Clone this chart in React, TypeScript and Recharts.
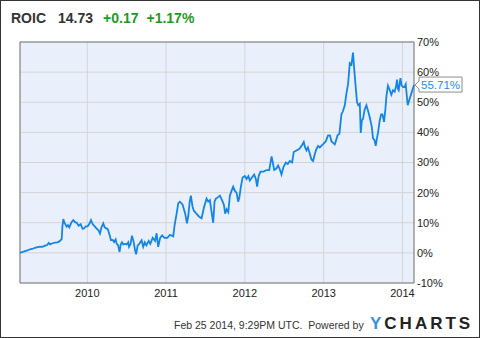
import React from 'react';
import { LineChart, Line, XAxis, YAxis, CartesianGrid, ReferenceArea } from 'recharts';

// dates as decimal years, ROIC in percent
const dates = [
  2009.146, 2009.18, 2009.21, 2009.24, 2009.273, 2009.3, 2009.337, 2009.37, 2009.4, 2009.43,
  2009.464, 2009.49, 2009.51, 2009.527, 2009.56, 2009.59, 2009.62, 2009.645, 2009.675, 2009.685,
  2009.696, 2009.71, 2009.739, 2009.755, 2009.772, 2009.8, 2009.822, 2009.845, 2009.866, 2009.89,
  2009.916, 2009.94, 2009.958, 2009.98, 2010.005, 2010.03, 2010.047, 2010.07, 2010.098, 2010.12,
  2010.14, 2010.161, 2010.18, 2010.203, 2010.22, 2010.237, 2010.26, 2010.288, 2010.3, 2010.322,
  2010.34, 2010.36, 2010.373, 2010.39, 2010.4, 2010.41, 2010.424, 2010.44, 2010.457, 2010.48,
  2010.5, 2010.52, 2010.53, 2010.55, 2010.567, 2010.59, 2010.605, 2010.62, 2010.64, 2010.66,
  2010.69, 2010.71, 2010.73, 2010.75, 2010.78, 2010.8, 2010.83, 2010.86, 2010.88, 2010.9,
  2010.925, 2010.95, 2010.98, 2011.015, 2011.05, 2011.091, 2011.11, 2011.134, 2011.155, 2011.176,
  2011.21, 2011.243, 2011.265, 2011.281, 2011.3, 2011.315, 2011.335, 2011.353, 2011.385, 2011.42,
  2011.451, 2011.48, 2011.514, 2011.535, 2011.556, 2011.575, 2011.598, 2011.615, 2011.632, 2011.66,
  2011.683, 2011.71, 2011.734, 2011.75, 2011.768, 2011.79, 2011.81, 2011.83, 2011.852, 2011.875,
  2011.895, 2011.915, 2011.928, 2011.95, 2011.971, 2012.0, 2012.022, 2012.045, 2012.063, 2012.09,
  2012.118, 2012.14, 2012.156, 2012.175, 2012.199, 2012.24, 2012.275, 2012.31, 2012.339, 2012.355,
  2012.372, 2012.4, 2012.422, 2012.44, 2012.465, 2012.49, 2012.52, 2012.545, 2012.571, 2012.6,
  2012.621, 2012.655, 2012.689, 2012.72, 2012.748, 2012.765, 2012.782, 2012.8, 2012.824, 2012.845,
  2012.866, 2012.89, 2012.909, 2012.93, 2012.951, 2012.99, 2013.027, 2013.056, 2013.08, 2013.1,
  2013.12, 2013.141, 2013.16, 2013.176, 2013.2, 2013.226, 2013.245, 2013.268, 2013.29, 2013.31,
  2013.332, 2013.353, 2013.373, 2013.388, 2013.404, 2013.424, 2013.44, 2013.459, 2013.471, 2013.485,
  2013.5, 2013.52, 2013.543, 2013.565, 2013.585, 2013.61, 2013.627, 2013.645, 2013.661, 2013.68,
  2013.691, 2013.712, 2013.73, 2013.746, 2013.767, 2013.785, 2013.797, 2013.817, 2013.84, 2013.86,
  2013.88, 2013.902, 2013.92, 2013.932, 2013.942, 2013.953, 2013.975, 2013.99, 2014.008, 2014.025,
  2014.042, 2014.067, 2014.09, 2014.114, 2014.147,
];

const roic = [
  0.0, 0.3, 0.6, 0.8, 1.2, 1.3, 1.7, 1.9, 2.1, 2.0,
  2.4, 2.6, 3.3, 2.8, 3.2, 3.4, 3.5, 3.8, 4.6, 9.0,
  11.2, 10.0, 8.7, 9.2, 8.5, 10.2, 10.9, 10.2, 10.0, 9.0,
  9.5, 8.0, 8.1, 8.8, 8.8, 9.8, 10.9, 9.5, 8.7, 8.0,
  7.6, 6.4, 8.5, 9.8, 8.5, 8.2, 7.9, 5.5, 4.2, 4.3,
  3.6, 4.5, 3.0, 2.6, 1.5, 0.3, 2.8, 3.5, 2.8, 3.0,
  2.8, 3.5, 2.0, 3.0, 5.7, 3.5, 1.0, -0.5, 2.5, 3.0,
  4.2, 2.0, 3.5, 2.5, 4.0, 3.0, 5.0, 4.0, 6.5, 2.0,
  5.0, 5.8, 5.0, 5.0, 6.0, 5.5, 9.5, 13.0, 16.5, 17.0,
  16.0, 13.0, 9.8, 12.0, 17.0, 19.0, 15.5, 14.0, 13.0, 12.0,
  11.5, 15.0, 18.0, 17.0, 17.5, 14.0, 10.0, 17.0, 18.0, 18.5,
  19.0, 17.5, 16.0, 13.0, 14.5, 13.5, 19.0, 20.5, 22.0, 20.5,
  20.0, 17.0, 18.0, 22.0, 25.0, 25.5, 24.5, 25.5, 24.0, 25.0,
  26.0, 24.5, 22.0, 25.5, 27.0, 27.0, 27.5, 27.5, 32.0, 30.0,
  27.5, 28.0, 29.0, 28.0, 26.0, 28.5, 30.0, 29.5, 30.5, 30.0,
  33.5, 34.0, 34.5, 35.5, 36.8, 35.0, 34.0, 35.0, 33.0, 31.0,
  30.5, 33.0, 34.5, 35.5, 35.0, 36.0, 37.0, 39.0, 39.0, 37.0,
  36.5, 36.0, 37.5, 39.0, 39.5, 46.0, 47.0, 49.0, 53.0, 56.0,
  63.0, 62.5, 66.5, 61.0, 56.0, 50.0, 49.0, 49.5, 39.8, 44.0,
  44.5, 47.5, 49.0, 47.0, 45.0, 42.0, 38.0, 37.5, 35.5, 38.5,
  40.0, 44.0, 46.0, 46.0, 43.5, 48.0, 52.0, 55.5, 54.0, 52.5,
  54.0, 53.5, 55.5, 57.5, 54.5, 54.0, 58.0, 55.5, 55.0, 55.0,
  56.0, 49.0, 51.0, 53.0, 55.71,
];

const yearTicks = [2010, 2011, 2012, 2013, 2014];
const pctTicks = [-10, 0, 10, 20, 30, 40, 50, 60, 70];

const data = dates.map((d, i) => ({ date: d, roic: roic[i] }));
const lastIndex = data.length - 1;

const FONT = '"Liberation Sans", Arial, sans-serif';

// value flag on the last point
const LastLabel = (props: any) => {
  const { x, y, index, value } = props;
  if (index !== lastIndex) return null;
  const pts = [
    [x + 1, y], [x + 5, y - 4], [x + 5, y - 8], [x + 48, y - 8],
    [x + 48, y + 7], [x + 5, y + 7], [x + 5, y + 4],
  ].map(p => p.join(',')).join(' ');
  return (
    <g>
      <polygon points={pts} fill="#fff" stroke="#8c8c8c" strokeWidth={1} />
      <text x={x + 7} y={y + 4} fill="#1a8cf0" fontSize={11.5} fontFamily={FONT}>
        {`${Number(value).toFixed(2)}%`}
      </text>
    </g>
  );
};

export default function App() {
  return (
    <div
      style={{
        position: 'absolute', left: 0, top: 0, width: 480, height: 338,
        boxSizing: 'border-box', border: '1px solid #333', background: '#fff',
        fontFamily: FONT, overflow: 'hidden',
      }}
    >
      <div style={{ position: 'absolute', left: 10, top: 9, fontSize: 14, fontWeight: 'bold', whiteSpace: 'nowrap' }}>
        <span style={{ color: '#333' }}>ROIC</span>
        <span style={{ color: '#333', marginLeft: 12 }}>14.73</span>
        <span style={{ color: '#1f9a1f', marginLeft: 10 }}>+0.17</span>
        <span style={{ color: '#1f9a1f', marginLeft: 8 }}>+1.17%</span>
      </div>

      <div style={{ position: 'absolute', left: -1, top: -1 }}>
        <LineChart width={480} height={338} data={data} margin={{ top: 42, right: 6, bottom: 30, left: 20 }}>
          <CartesianGrid stroke="#d4d4d4" fill="#eaf0fb" />
          <XAxis
            dataKey="date"
            type="number"
            domain={[2009.146, 2014.147]}
            ticks={yearTicks}
            interval={0}
            height={25}
            axisLine={false}
            tickLine={false}
            tickSize={0}
            tickMargin={6}
            tick={{ fontSize: 11, fill: '#222', fontFamily: FONT }}
          />
          <YAxis
            orientation="right"
            domain={[-10, 70]}
            ticks={pctTicks}
            interval={0}
            width={60}
            axisLine={false}
            tickLine={false}
            tickSize={0}
            tickMargin={3}
            tickFormatter={(v: number) => `${v}%`}
            tick={{ fontSize: 11, fill: '#222', fontFamily: FONT, textAnchor: 'start' }}
          />
          <ReferenceArea x1={2009.146} x2={2014.147} y1={-10} y2={70} fill="none" stroke="#7a7a7a" strokeWidth={1} />
          <Line
            type="linear"
            dataKey="roic"
            stroke="#1485e8"
            strokeWidth={1.8}
            dot={false}
            isAnimationActive={false}
            label={LastLabel}
          />
        </LineChart>
      </div>

      <div style={{ position: 'absolute', left: 173, top: 318, fontSize: 10.5, color: '#333', whiteSpace: 'nowrap' }}>
        Feb 25 2014, 9:29PM UTC.&nbsp;&nbsp;Powered by
      </div>
      <div
        style={{
          position: 'absolute', left: 369, top: 313, fontSize: 17, fontWeight: 900,
          letterSpacing: 3, color: '#222', whiteSpace: 'nowrap',
        }}
      >
        <span style={{ color: '#3b8fe6' }}>Y</span>CHARTS
      </div>
    </div>
  );
}
